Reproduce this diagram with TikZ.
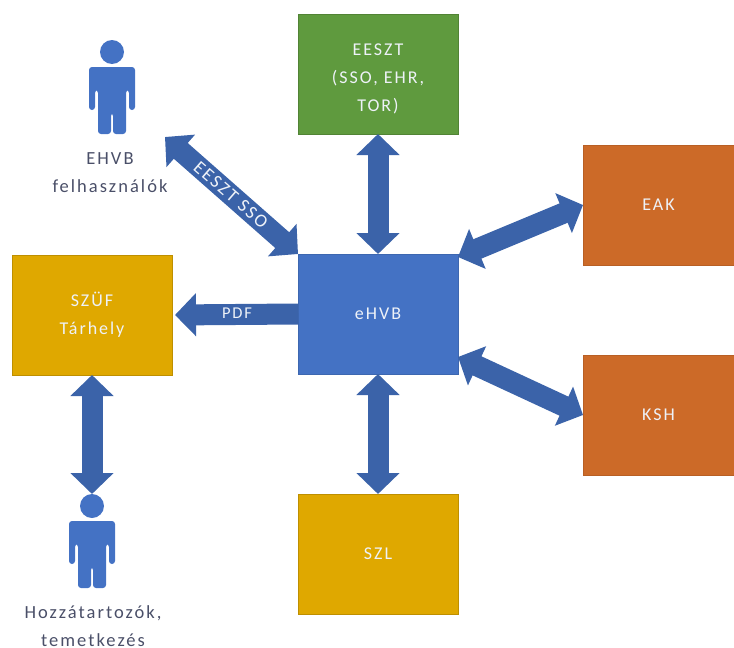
\documentclass[tikz,border=0pt]{standalone}
\usepackage{fontspec}
\setmainfont[LetterSpace=11]{Carlito}
\usetikzlibrary{arrows.meta}
\definecolor{boxblue}{HTML}{4472C4}
\definecolor{boxgreen}{HTML}{5F9A3E}
\definecolor{boxyellow}{HTML}{DFA800}
\definecolor{boxorange}{HTML}{CC6A28}
\definecolor{arrowblue}{HTML}{3B63A9}
\definecolor{labelgrey}{HTML}{4A4F68}
\definecolor{boxtext}{HTML}{EEF2F8}
\tikzset{
  sysbox/.style={rectangle,minimum width=160pt,minimum height=120pt,outer sep=0pt,inner sep=0pt,
    align=center,text=boxtext,font=\fontsize{18}{28}\selectfont},
  personlabel/.style={align=center,text=labelgrey,font=\fontsize{18.5}{28}\selectfont},
  bothway/.style={draw=arrowblue,line width=21pt,
    {Triangle[width=42pt,length=21pt]}-{Triangle[width=42pt,length=21pt]}},
  oneway/.style={draw=arrowblue,line width=21pt,-{Triangle[width=42pt,length=21pt]},shorten >=3pt},
  arrowtext/.style={text=boxtext,inner sep=0pt},
  personhead/.style={circle,fill=boxblue,minimum size=24pt,inner sep=0pt,outer sep=0pt},
  personbody/.style={fill=boxblue,draw=none,rounded corners=3pt}
}
\newcommand{\personbodyat}[2]{%
  \fill[personbody,shift={(#1,#2)}]
    (-23,15) -- (23,15) -- (23,58) -- (17,58) -- (17,38) -- (14,38) -- (14,82)
    -- (1,82) -- (1,61) -- (-1,61) -- (-1,82) -- (-14,82) -- (-14,38) -- (-17,38) -- (-17,58)
    -- (-23,58) -- cycle;}
\begin{document}
\begin{tikzpicture}[x=1pt,y=-1pt]
\useasboundingbox (0,0) rectangle (734,648);
% boxes
\node[sysbox,fill=boxgreen,draw=boxgreen!85!black] (eeszt) at (378,74) {\rule{0pt}{22pt}EESZT\\(SSO, EHR,\\TOR)};
\node[sysbox,fill=boxblue,draw=boxblue!90!black] (ehvb) at (378,314) {eHVB};
\node[sysbox,fill=boxyellow,draw=boxyellow!85!black] (szl) at (378,554) {SZL};
\node[sysbox,fill=boxyellow,draw=boxyellow!85!black] (szuf) at (92,315) {SZÜF\\Tárhely};
\node[sysbox,minimum width=151pt,fill=boxorange,draw=boxorange!90!black] (eak) at (658.5,205) {EAK};
\node[sysbox,minimum width=151pt,fill=boxorange,draw=boxorange!90!black] (ksh) at (658.5,415) {KSH};
% persons
\node[personhead] (headA) at (112,52) {};
\personbodyat{112}{52}
\node[personhead] (headB) at (92,506) {};
\personbodyat{92}{506}
\node[personlabel] (labelA) at (110,173) {EHVB\\felhasználók};
\node[personlabel] (labelB) at (93,626) {Hozzátartozók,\\temetkezés};
\coordinate (ssoEnd) at (165,137);
% connectors
\draw[bothway] (eeszt.south) -- (ehvb.north);
\draw[bothway] (ehvb.south) -- (szl.north);
\draw[bothway] (szuf.south) -- (headB.north);
\draw[bothway] (ehvb.north west) -- (ssoEnd);
\draw[bothway] ([yshift=57pt]ehvb.east) -- (eak.west);
\draw[bothway] ([yshift=-43pt]ehvb.east) -- (ksh.west);
\draw[oneway] (ehvb.west) -- (szuf.east);
% arrow labels
\node[arrowtext,font=\fontsize{16.5}{18}\selectfont] (pdfLabel) at (237,313) {PDF};
\node[arrowtext,rotate=-41,font=\fontsize{18.5}{20}\selectfont] (ssoLabel) at (231,195) {EESZT SSO};
\end{tikzpicture}
\end{document}
